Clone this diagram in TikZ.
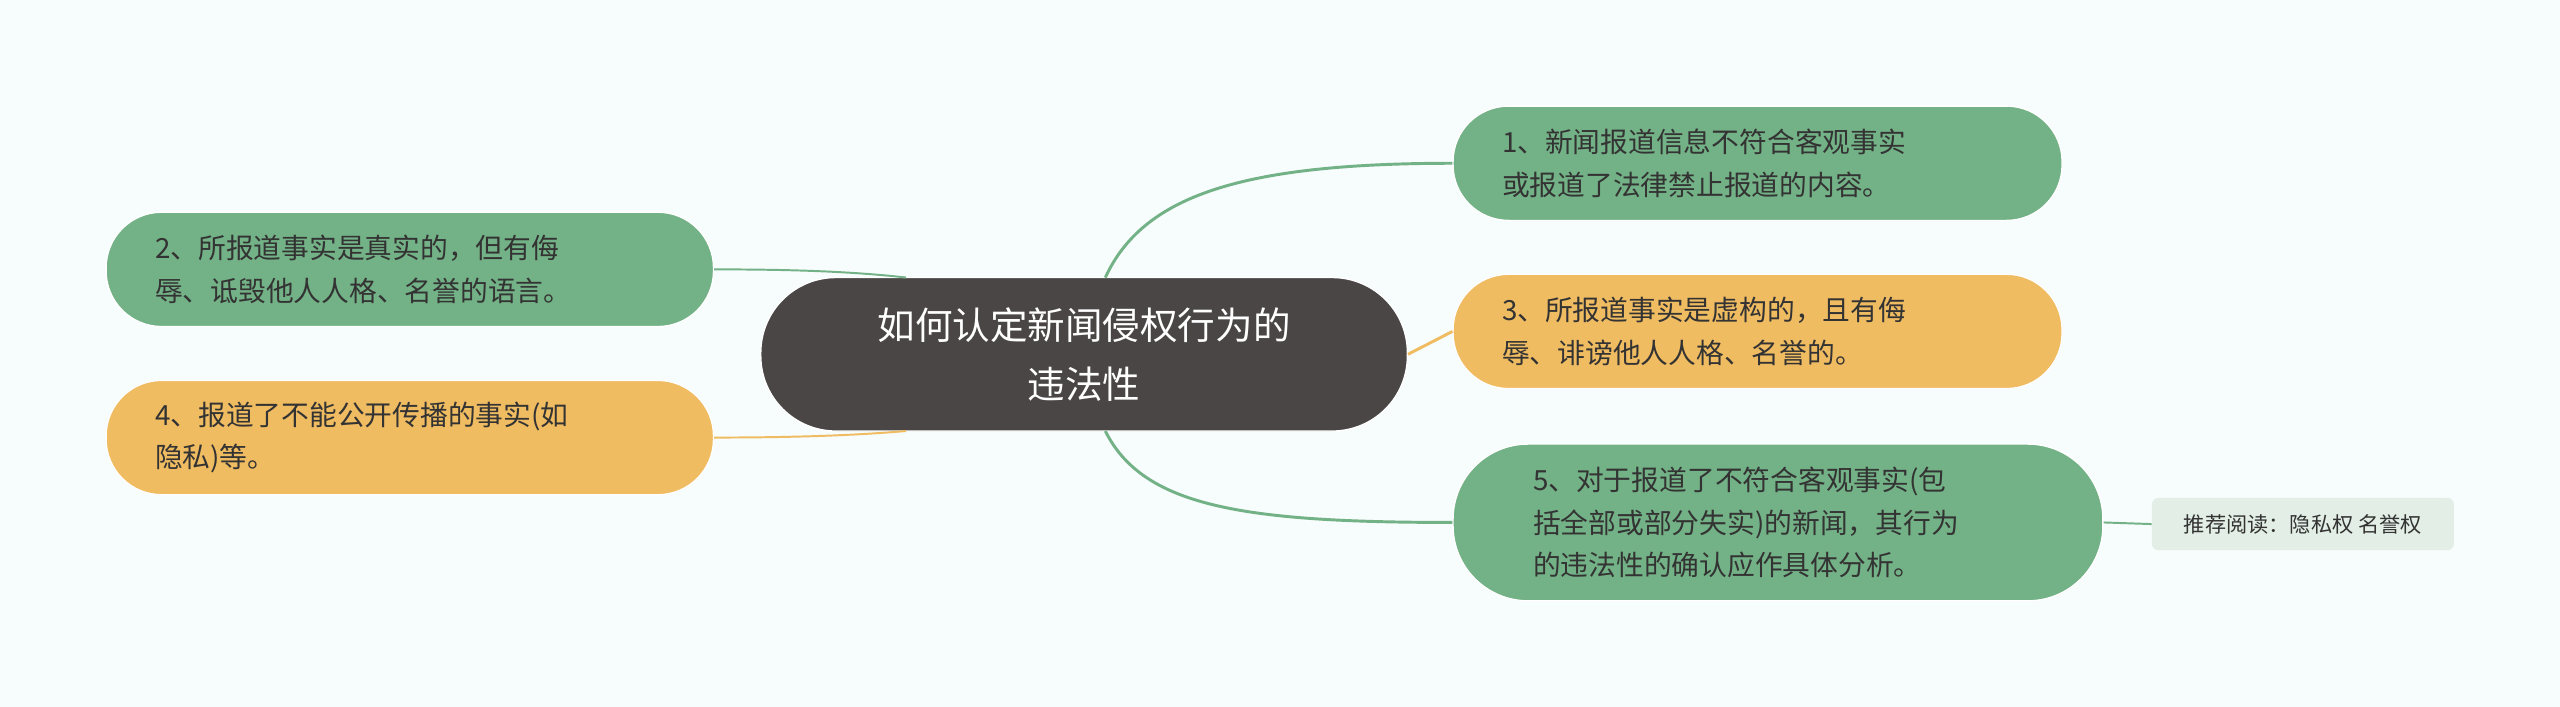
\documentclass[tikz,border=0pt]{standalone}
\usepackage{fontspec}
\setmainfont{Noto Sans CJK SC}
\begin{document}
\begin{tikzpicture}[x=1pt,y=-1pt,
  bg/.style={fill=bgc},
  leaf/.style={rectangle,rounded corners=34pt,minimum height=70pt,align=left,text=txt,font=\fontsize{17}{26}\selectfont,inner xsep=30pt,draw=white,line width=0.8pt},
  gleaf/.style={leaf,fill=grn},
  oleaf/.style={leaf,fill=org},
  gline/.style={draw=grn,line width=1.8pt},
  oline/.style={draw=org,line width=1.8pt}]
\definecolor{bgc}{HTML}{F7FCFC}
\definecolor{grn}{HTML}{73B186}
\definecolor{org}{HTML}{F0BC62}
\definecolor{txt}{HTML}{333333}
\definecolor{ctr}{HTML}{4A4646}
\definecolor{tagc}{HTML}{E3EFE6}
\fill[bgc] (0,0) rectangle (1568,433);
\useasboundingbox (0,0) rectangle (1568,433);
\node[rectangle,rounded corners=46pt,fill=ctr,draw=white,line width=0.8pt,minimum width=396pt,minimum height=94pt,text=white,align=center,font=\fontsize{23}{36}\selectfont] (c) at (664,217) {如何认定新闻侵权行为的\\违法性};
\node[gleaf,minimum width=373pt,text width=313pt] (n1) at (1076.5,100) {1、新闻报道信息不符合客观事实\\或报道了法律禁止报道的内容。};
\node[oleaf,minimum width=373pt,text width=313pt] (n3) at (1076.5,203) {3、所报道事实是虚构的，且有侮\\辱、诽谤他人人格、名誉的。};
\node[gleaf,minimum width=398pt,minimum height=96pt,rounded corners=46pt,text width=300pt,inner xsep=49pt] (n5) at (1089,320) {5、对于报道了不符合客观事实(包\\括全部或部分失实)的新闻，其行为\\的违法性的确认应作具体分析。};
\node[gleaf,minimum width=372pt,text width=312pt] (n2) at (251,165) {2、所报道事实是真实的，但有侮\\辱、诋毁他人人格、名誉的语言。};
\node[oleaf,minimum width=372pt,text width=312pt] (n4) at (251,268) {4、报道了不能公开传播的事实(如\\隐私)等。};
\node[rectangle,rounded corners=4pt,fill=tagc,minimum width=185pt,minimum height=32pt,text=txt,font=\fontsize{13}{16}\selectfont] (t) at (1410.5,321) {推荐阅读：隐私权 名誉权};
\begin{scope}[on background layer/.style={}]
\end{scope}
\draw[gline] (677,170) .. controls (700,120) and (760,100) .. (n1.west);
\draw[oline] (c.east) -- (n3.west);
\draw[gline] (677,264) .. controls (700,310) and (760,320) .. (n5.west);
\draw[gline,line width=1.2pt] (555,170) .. controls (520,166) and (480,165) .. (n2.east);
\draw[oline,line width=1.2pt] (555,264) .. controls (520,267) and (480,268) .. (n4.east);
\draw[gline,line width=1.2pt] (n5.east) -- (t.west);
\end{tikzpicture}
\end{document}
